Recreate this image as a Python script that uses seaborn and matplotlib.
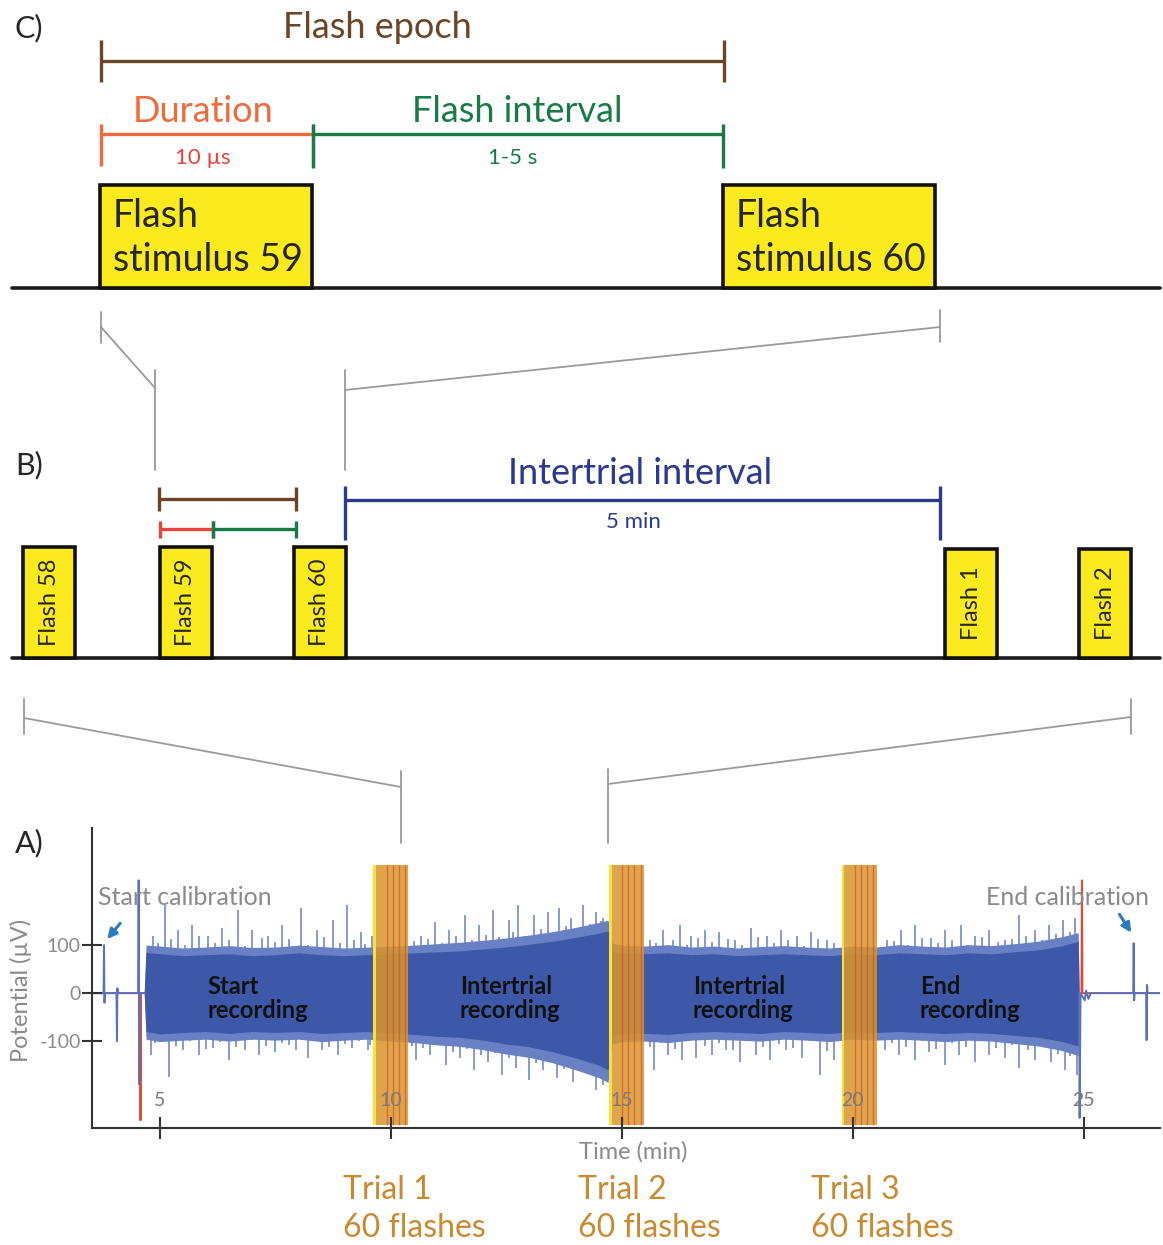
import matplotlib
matplotlib.use("Agg")
import matplotlib.pyplot as plt
from matplotlib.patches import Rectangle
import pandas as pd
import seaborn as sns

# ---------------- panel A: recording (time in min, potential in uV) ----------
X_TICKS = [5, 10, 15, 20, 25]
Y_TICKS = [-100, 0, 100]
TRIAL_LABELS = ["Trial 1\n60 flashes", "Trial 2\n60 flashes", "Trial 3\n60 flashes"]
TRIAL_START = [9.62, 14.72, 19.76]
TRIAL_LEN = 0.76
SEGMENT_LABELS = ["Start\nrecording", "Intertrial\nrecording",
                  "Intertrial\nrecording", "End\nrecording"]
SEGMENT_T = [6.02, 11.49, 16.54, 21.45]

# dense part of the EEG trace (core and lighter fringe envelopes)
ENV_T = [4.66, 4.70, 5.0, 5.5, 6.0, 6.5, 7.0, 7.5, 8.0, 8.5, 9.0, 9.5, 10.0,
         10.5, 11.0, 11.5, 12.0, 12.5, 13.0, 13.5, 14.0, 14.5, 14.7, 14.8,
         15.0, 15.5, 16.0, 16.5, 17.0, 17.5, 18.0, 18.5, 19.0, 19.5, 20.0,
         20.5, 21.0, 21.5, 22.0, 22.5, 23.0, 23.5, 24.0, 24.5, 24.88, 24.9]
ENV_HI = [0, 85, 82, 78, 80, 82, 78, 80, 84, 80, 78, 80, 82,
          84, 86, 88, 92, 96, 102, 108, 116, 125, 130, 88,
          84, 82, 84, 80, 82, 78, 80, 82, 80, 78, 82,
          80, 84, 82, 80, 84, 82, 86, 90, 98, 108, 0]
ENV_LO = [0, -80, -85, -82, -80, -84, -80, -82, -80, -84, -82, -80, -84,
          -86, -90, -92, -98, -106, -112, -122, -135, -150, -160, -90,
          -85, -84, -86, -82, -80, -82, -84, -80, -82, -84, -80,
          -82, -80, -82, -84, -82, -84, -88, -92, -100, -110, 0]
FRINGE_HI = [0, 100, 98, 94, 96, 99, 95, 96, 100, 97, 94, 96, 98,
             100, 103, 106, 110, 115, 121, 128, 137, 147, 152, 104,
             100, 98, 101, 96, 98, 94, 97, 99, 96, 94, 98,
             96, 101, 98, 96, 101, 99, 103, 108, 117, 126, 0]
FRINGE_LO = [0, -96, -101, -98, -96, -100, -96, -98, -96, -101, -98, -96, -100,
             -103, -108, -111, -118, -127, -134, -145, -160, -176, -186, -106,
             -101, -100, -103, -98, -96, -98, -100, -96, -98, -101, -96,
             -98, -96, -98, -101, -98, -100, -105, -110, -119, -130, 0]

# isolated peaks sticking out of the dense trace
SPIKE_UP_T = [4.85, 5.1, 5.4, 5.7, 6.05, 6.35, 6.7, 7.0, 7.35, 7.65, 8.05, 8.4,
              8.75, 9.05, 9.35, 9.6, 10.65, 10.95, 11.25, 11.6, 11.9, 12.2,
              12.55, 12.75, 13.1, 13.4, 13.65, 13.9, 14.15, 14.45, 14.6, 15.6,
              15.9, 16.25, 16.5, 16.8, 17.1, 17.45, 17.8, 18.15, 18.45, 18.8,
              19.1, 19.45, 20.75, 21.05, 21.35, 21.7, 22.0, 22.35, 22.65,
              22.95, 23.3, 23.6, 23.95, 24.25, 24.55, 24.8,
              4.95, 5.25, 5.55, 5.85, 6.2, 6.5, 6.85, 7.2, 7.5, 7.8, 8.2, 8.55,
              8.9, 9.2, 9.45, 10.5, 10.8, 11.1, 11.4, 11.75, 12.05, 12.35,
              12.65, 12.9, 13.25, 13.5, 13.8, 14.05, 14.3, 14.55, 15.75, 16.1,
              16.4, 16.65, 16.95, 17.3, 17.6, 17.95, 18.3, 18.6, 18.95, 19.25,
              19.6, 20.9, 21.2, 21.5, 21.85, 22.15, 22.5, 22.8, 23.15, 23.45,
              23.75, 24.1, 24.4, 24.7]
SPIKE_UP_V = [120, 183, 131, 142, 120, 135, 173, 131, 120, 142, 177, 131,
              152, 183, 127, 120, 120, 148, 131, 163, 142, 173,
              152, 183, 163, 169, 177, 156, 183, 169, 156, 110,
              131, 142, 120, 131, 127, 110, 135, 120, 131, 120,
              127, 110, 110, 131, 142, 115, 131, 142, 120,
              131, 110, 163, 131, 142, 152, 156,
              105, 112, 100, 118, 104, 110, 98, 115, 106, 112, 100, 117,
              104, 110, 102, 108, 112, 104, 118, 110, 122, 116,
              128, 120, 134, 126, 140, 132, 145, 150, 104, 110,
              100, 114, 106, 112, 100, 116, 104, 110, 98, 112,
              104, 108, 100, 114, 104, 110, 100, 116, 106, 112,
              118, 110, 124, 128]
SPIKE_DN_T = [4.8, 5.2, 5.5, 5.85, 6.15, 6.5, 6.85, 7.15, 7.5, 7.8, 8.2, 8.5,
              8.85, 9.15, 9.5, 10.55, 10.85, 11.2, 11.5, 11.8, 12.1, 12.4,
              12.7, 13.0, 13.3, 13.6, 13.95, 14.2, 14.45, 14.6, 15.7, 16.0,
              16.3, 16.6, 16.95, 17.25, 17.55, 17.9, 18.2, 18.55, 18.9, 19.3,
              19.6, 20.7, 21.0, 21.35, 21.65, 22.0, 22.3, 22.65, 22.95, 23.3,
              23.6, 23.95, 24.3, 24.6, 24.85,
              4.9, 5.35, 5.65, 6.0, 6.3, 6.65, 7.0, 7.3, 7.65, 7.95, 8.35,
              8.65, 9.0, 9.3, 9.55, 10.45, 10.7, 11.0, 11.35, 11.65, 11.95,
              12.25, 12.55, 12.85, 13.15, 13.45, 13.75, 14.05, 14.35, 14.55,
              15.6, 15.85, 16.15, 16.45, 16.8, 17.1, 17.4, 17.7, 18.05, 18.4,
              18.7, 19.05, 19.45, 20.85, 21.15, 21.5, 21.8, 22.15, 22.45,
              22.8, 23.1, 23.45, 23.8, 24.15, 24.45, 24.7]
SPIKE_DN_V = [-129, -175, -119, -129, -115, -140, -119, -129, -123, -108, -135,
              -119, -129, -115, -119, -140, -129, -150, -135, -160, -144, -171,
              -156, -181, -160, -177, -185, -160, -202, -192, -160, -129,
              -140, -135, -129, -119, -144, -129, -140, -119, -135, -171,
              -140, -119, -129, -140, -123, -150, -129, -144, -129, -135,
              -156, -140, -144, -160, -171,
              -104, -110, -100, -116, -102, -112, -98, -110, -104, -118, -100,
              -112, -106, -100, -108, -110, -114, -108, -122, -116, -128,
              -124, -136, -130, -146, -140, -158, -150, -168, -175,
              -112, -104, -116, -100, -110, -104, -118, -100, -112, -106,
              -114, -100, -120, -104, -112, -100, -116, -104, -112,
              -100, -114, -108, -118, -112, -126, -132]

# calibration pulses before and after the recording
CAL_START_BLUE_T = [3.53, 3.78, 3.79, 3.80, 3.81, 4.06, 4.07, 4.08, 4.09,
                    4.53, 4.54, 4.55, 4.56, 4.66]
CAL_START_BLUE_V = [0, 0, 100, -20, 0, 0, -100, 10, 0, 0, 235, -190, 0, 0]
CAL_START_RED_T = [3.53, 4.57, 4.58, 4.59, 4.66]
CAL_START_RED_V = [0, 0, -265, 0, 0]
CAL_END_BLUE_T = [24.9, 24.91, 24.93, 25.02, 25.05, 25.1, 25.15, 26.07, 26.08,
                  26.09, 26.1, 26.35, 26.36, 26.37, 26.38, 26.65]
CAL_END_BLUE_V = [0, -260, 0, -15, 5, -12, 0, 0, 104, -15, 0, 0, -98, 17, 0, 0]
CAL_END_RED_T = [24.95, 24.96, 24.97, 26.65]
CAL_END_RED_V = [0, 235, 0, 0]

# ---------------- panels B and C: schematic layout (reference px) -----------
B_FLASH_LABELS = ["Flash 58", "Flash 59", "Flash 60", "Flash 1", "Flash 2"]
B_FLASH_ONSET = [23, 160, 294, 945, 1079]
C_FLASH_LABELS = ["Flash\nstimulus 59", "Flash\nstimulus 60"]
C_FLASH_ONSET = [100, 723]

BROWN = "#6B4525"
ORANGE = "#F06A3C"
RED = "#E9423B"
GREEN = "#187A47"
BLUE = "#2B3990"
YELLOW = "#FBEA1D"
GRAY = "#8A8A8A"
SIGNAL = "#3D58A8"
FRINGE = "#6A80C4"
SPIKE = "#7489C9"
TRIAL = "#DA962A"
TRIAL_TXT = "#C98A2F"
ARROW = "#2A7CC0"

W, H = 1163, 1245


def bracket(ax, x0, x1, y, up, down, color, lw=2.4):
    ax.plot([x0, x1], [y, y], color=color, lw=lw, solid_capstyle="butt")
    for x in (x0, x1):
        ax.plot([x, x], [y - up, y + down], color=color, lw=lw,
                solid_capstyle="butt")


def main():
    sns.set_theme(style="white")
    plt.rcParams["font.family"] = ["Lato", "DejaVu Sans"]
    plt.rcParams["axes.unicode_minus"] = False

    fig = plt.figure(figsize=(W / 100, H / 100), dpi=100)

    # ---------- overlay for schematic panels ----------
    ov = fig.add_axes([0, 0, 1, 1])
    ov.set_xlim(0, W)
    ov.set_ylim(H, 0)
    ov.axis("off")

    # panel C
    ov.text(14, 28, "C)", fontsize=22, va="center")
    ov.plot([12, 1160], [288, 288], color="#1a1a1a", lw=2.6)
    for lab, x0 in zip(C_FLASH_LABELS, C_FLASH_ONSET):
        ov.add_patch(Rectangle((x0, 185), 212, 103, facecolor=YELLOW,
                               edgecolor="#111111", lw=2.6, zorder=3))
        ov.text(x0 + 13, 238, lab, fontsize=27, va="center", ha="left",
                linespacing=1.28, zorder=4)
    bracket(ov, 101, 724, 61, 21, 21, BROWN)
    ov.text(377, 27, "Flash epoch", color=BROWN, fontsize=26,
            ha="center", va="center")
    bracket(ov, 101, 313, 134, 10, 32, ORANGE)
    bracket(ov, 313, 723, 134, 10, 34, GREEN)
    ov.text(203, 112, "Duration", color=ORANGE, fontsize=26,
            ha="center", va="center")
    ov.text(517, 112, "Flash interval", color=GREEN, fontsize=26,
            ha="center", va="center")
    ov.text(203, 158, "10 µs", color=RED, fontsize=16, ha="center",
            va="center")
    ov.text(513, 158, "1-5 s", color=GREEN, fontsize=16, ha="center",
            va="center")

    # connectors C -> B
    cg = dict(color="#9a9a9a", lw=1.3)
    ov.plot([101, 101], [312, 343], **cg)
    ov.plot([101, 155], [327, 388], **cg)
    ov.plot([155, 155], [370, 470], **cg)
    ov.plot([940, 940], [310, 342], **cg)
    ov.plot([940, 345], [327, 390], **cg)
    ov.plot([345, 345], [370, 470], **cg)

    # panel B
    ov.text(15, 465, "B)", fontsize=22, va="center")
    ov.plot([12, 1160], [658, 658], color="#1a1a1a", lw=2.6)
    for lab, x0 in zip(B_FLASH_LABELS, B_FLASH_ONSET):
        top = 547 if x0 < 900 else 549
        ov.add_patch(Rectangle((x0, top), 52, 658 - top, facecolor=YELLOW,
                               edgecolor="#111111", lw=2.6, zorder=3))
        ov.text(x0 + 26, (top + 658) / 2, lab, fontsize=17, rotation=90,
                ha="center", va="center", zorder=4)
    bracket(ov, 159, 296, 499, 12, 12, BROWN)
    bracket(ov, 160, 213, 529, 8, 9, RED)
    bracket(ov, 213, 296, 529, 8, 9, GREEN)
    bracket(ov, 345, 940, 500, 14, 40, BLUE)
    ov.text(640, 474, "Intertrial interval", color=BLUE, fontsize=26,
            ha="center", va="center")
    ov.text(633, 522, "5 min", color=BLUE, fontsize=16, ha="center",
            va="center")

    # connectors B -> A
    ov.plot([24, 24], [699, 734], **cg)
    ov.plot([24, 401], [718, 787], **cg)
    ov.plot([401, 401], [771, 843], **cg)
    ov.plot([1131, 1131], [699, 734], **cg)
    ov.plot([1131, 608], [717, 784], **cg)
    ov.plot([608, 608], [769, 843], **cg)

    ov.text(15, 843, "A)", fontsize=22, va="center")

    # ---------- panel A ----------
    ax = fig.add_axes([92 / W, 1 - 1128 / H, (1160 - 92) / W, 300 / H])
    ax.set_facecolor("none")
    ax.set_axisbelow(False)
    ax.set_xlim(3.53, 26.65)
    ax.set_ylim(-281, 344)

    ax.vlines(SPIKE_UP_T, 0, SPIKE_UP_V, color=SPIKE, lw=1.2, zorder=1.1)
    ax.vlines(SPIKE_DN_T, SPIKE_DN_V, 0, color=SPIKE, lw=1.2, zorder=1.1)
    ax.fill_between(ENV_T, FRINGE_LO, FRINGE_HI, color=FRINGE, lw=0,
                    zorder=1.2)
    ax.fill_between(ENV_T, ENV_LO, ENV_HI, color=SIGNAL, lw=0, zorder=1.3)

    cal = pd.concat([
        pd.DataFrame({"t": CAL_START_RED_T, "uv": CAL_START_RED_V, "trace": "start red"}),
        pd.DataFrame({"t": CAL_END_RED_T, "uv": CAL_END_RED_V, "trace": "end red"}),
        pd.DataFrame({"t": CAL_START_BLUE_T, "uv": CAL_START_BLUE_V, "trace": "start blue"}),
        pd.DataFrame({"t": CAL_END_BLUE_T, "uv": CAL_END_BLUE_V, "trace": "end blue"}),
    ], ignore_index=True)
    sns.lineplot(data=cal, x="t", y="uv", hue="trace",
                 palette={"start red": "#E8452F", "end red": "#E8452F",
                          "start blue": "#5A72BD", "end blue": "#5A72BD"},
                 estimator=None, sort=False, legend=False, lw=1.4, ax=ax,
                 zorder=1.5)

    # trials
    ax.bar(TRIAL_START, 542, width=TRIAL_LEN, bottom=-275, align="edge",
           color=TRIAL, alpha=0.85, lw=0, zorder=2.0)
    ax.bar(TRIAL_START, 542, width=0.06, bottom=-275, align="edge",
           color="#F7E23A", lw=0, zorder=2.1)
    for ts in TRIAL_START:
        for frac in (0.38, 0.55, 0.72, 0.9):
            ax.vlines(ts + frac * TRIAL_LEN, -275, 267, color="#D2452F",
                      lw=1.0, alpha=0.6, zorder=2.2)

    for lab, ts in zip(TRIAL_LABELS, TRIAL_START):
        ax.text(ts - 0.66, -450, lab, color=TRIAL_TXT, fontsize=23,
                ha="left", va="center", linespacing=1.35, clip_on=False)
    for lab, ts in zip(SEGMENT_LABELS, SEGMENT_T):
        ax.text(ts, -12, lab, fontsize=17, fontweight="bold", ha="left",
                va="center", linespacing=1.05, color="#111111", zorder=4)

    ax.text(3.66, 200, "Start calibration", color=GRAY, fontsize=18,
            va="center", ha="left")
    ax.text(22.88, 200, "End calibration", color=GRAY, fontsize=18,
            va="center", ha="left")
    ax.annotate("", xy=(3.82, 108), xytext=(4.18, 150),
                arrowprops=dict(arrowstyle="-|>", color=ARROW, lw=2.2,
                                mutation_scale=14))
    ax.annotate("", xy=(26.06, 121), xytext=(25.74, 169),
                arrowprops=dict(arrowstyle="-|>", color=ARROW, lw=2.2,
                                mutation_scale=14))

    for side in ("top", "right"):
        ax.spines[side].set_visible(False)
    for side in ("left", "bottom"):
        ax.spines[side].set_color("#333333")
        ax.spines[side].set_linewidth(1.5)
    ax.set_xticks(X_TICKS)
    ax.set_yticks(Y_TICKS)
    ax.tick_params(axis="x", bottom=True, direction="inout", length=16,
                   width=1.5, color="#333333", labelcolor="#7a7a7a",
                   labelsize=14, pad=-34)
    ax.tick_params(axis="y", left=True, direction="inout", length=14,
                   width=1.5, color="#333333", labelcolor=GRAY, labelsize=14,
                   pad=1)
    ax.set_xlabel("Time (min)", color=GRAY, fontsize=17)
    ax.xaxis.set_label_coords((633 - 92) / 1068, -0.045)
    ax.set_ylabel("Potential (µV)", color=GRAY, fontsize=17)
    ax.yaxis.set_label_coords(-0.056, 0.46)

    fig.savefig("out.png", dpi=100)
    plt.close(fig)


if __name__ == "__main__":
    main()
